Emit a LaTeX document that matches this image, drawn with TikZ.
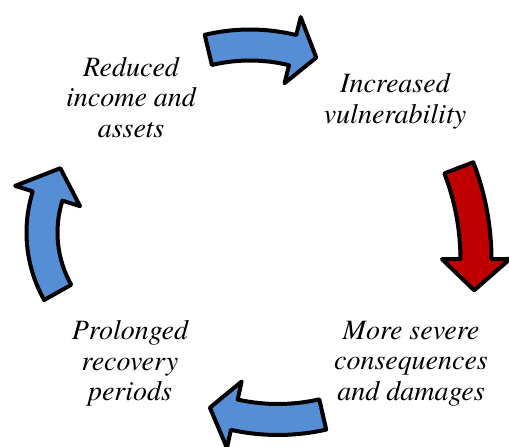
\documentclass[tikz,border=0pt]{standalone}
\usepackage{fontspec}
\newfontfamily\stagefont{texgyretermes}[Extension=.otf, UprightFont=*-regular, ItalicFont=*-italic]
\usetikzlibrary{positioning}
\definecolor{cycleblue}{HTML}{558ED5}
\definecolor{cyclered}{HTML}{C00000}
\newcommand{\bodyw}{15.5}
\newcommand{\headw}{34}
% curved block arrow: #1 fill, #2 centre, #3 radius, #4 tail angle, #5 neck angle, #6 tip angle
\newcommand{\bentarrow}[6]{%
  \begin{scope}[shift={#2}]
    \draw[arrowshape, fill=#1] (#4:{#3+\bodyw}) arc[start angle=#4, end angle=#5, radius={(#3+\bodyw)*1pt}]
      -- (#5:{#3+\headw}) -- (#6:#3) -- (#5:{#3-\headw}) -- (#5:{#3-\bodyw})
      arc[start angle=#5, end angle=#4, radius={(#3-\bodyw)*1pt}] -- cycle;
  \end{scope}}

\begin{document}
\begin{tikzpicture}[x=1pt, y=1pt,
  stage/.style={font=\fontsize{28}{30.5}\selectfont\stagefont\itshape, align=center, inner sep=0pt},
  arrowshape/.style={draw=black, line width=4pt, line join=round}]

  \useasboundingbox (0,0) rectangle (509,447);

  \node[stage] (reduced) at (131,349.7) {Reduced\\income and\\assets};
  \node[stage] (increased) at (395,345.5) {Increased\\vulnerability};
  \node[stage] (severe) at (411,83.5) {More severe\\consequences\\and damages};
  \node[stage] (prolonged) at (130,83.5) {Prolonged\\recovery\\periods};

  %arrows round the cycle
  \bentarrow{cycleblue}{(250,222)}{180}{103.4}{76.3}{68.4}
  \bentarrow{cyclered}{(220,187)}{256}{21.1}{0.2}{-6.8}
  \bentarrow{cycleblue}{(278,229.5)}{202}{-77.2}{-102.5}{-109.7}
  \bentarrow{cycleblue}{(164,214.5)}{122}{209.4}{162.6}{148.2}
\end{tikzpicture}
\end{document}
